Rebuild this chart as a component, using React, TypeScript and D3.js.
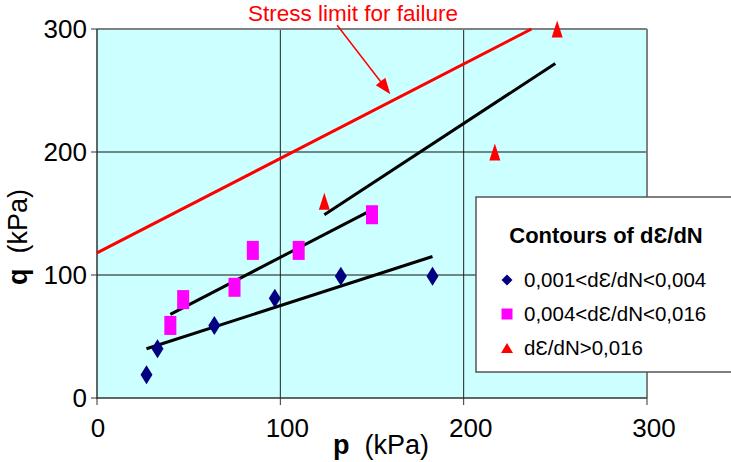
import React from "react"
import * as d3 from "d3"

// readings from the chart (p, q in kPa)
const lowP = [27, 33, 64, 97, 133, 183]
const lowQ = [19, 40, 59, 81, 99, 99]
const midP = [40, 47, 75, 85, 110, 150]
const midQ = [59, 80, 90, 120, 120, 149]
const highP = [124, 217, 251]
const highQ = [160, 200, 300]

const lowFit = [[27, 40], [183, 115]]
const midFit = [[40, 68], [150, 153]]
const highFit = [[124, 149], [250, 272]]
const failureLine = [[0, 118], [237, 300]]
const arrowFrom = [131, 303]
const arrowTo = [160, 247]

const ticks = [0, 100, 200, 300]
const legendLabels = ["0,001<d\u0190/dN<0,004", "0,004<d\u0190/dN<0,016", "d\u0190/dN>0,016"]

const W = 731
const H = 462
const margin = { top: 29, right: 84, bottom: 64, left: 97 }

const App: React.FC = () => {
  const x = d3.scaleLinear().domain([0, 300]).range([margin.left, W - margin.right])
  const y = d3.scaleLinear().domain([0, 300]).range([H - margin.bottom, margin.top])
  const line = d3.line<number[]>().x(d => x(d[0])).y(d => y(d[1]))

  const font = "'Liberation Sans', Arial, sans-serif"
  const diamond = (w: number, h: number) => `M0,${-h / 2}L${w / 2},0L0,${h / 2}L${-w / 2},0Z`
  const triangle = (w: number, h: number) => `M0,${-h / 2}L${w / 2},${h / 2}L${-w / 2},${h / 2}Z`

  // arrow head
  const ax = x(arrowTo[0]), ay = y(arrowTo[1])
  const bx = x(arrowFrom[0]), by = y(arrowFrom[1])
  const ang = Math.atan2(ay - by, ax - bx)
  const hl = 16, hw = 6
  const headPts = [
    [ax, ay],
    [ax - hl * Math.cos(ang) + hw * Math.sin(ang), ay - hl * Math.sin(ang) - hw * Math.cos(ang)],
    [ax - hl * Math.cos(ang) - hw * Math.sin(ang), ay - hl * Math.sin(ang) + hw * Math.cos(ang)],
  ]

  const x0 = x(0), x1 = x(300), y0 = y(0), y1 = y(300)

  return (
    <svg width={W} height={H} style={{ position: "absolute", left: 0, top: 0, display: "block" }} fontFamily={font}>
      <rect width={W} height={H} fill="#fff" />
      <rect x={x0} y={y1} width={x1 - x0} height={y0 - y1} fill="#ccffff" />
      {/* grid */}
      {[100, 200].map(t => (
        <g key={t}>
          <line x1={x(t)} x2={x(t)} y1={y1} y2={y0} stroke="#222" strokeWidth={1} />
          <line x1={x0} x2={x1} y1={y(t)} y2={y(t)} stroke="#111" strokeWidth={1} />
        </g>
      ))}
      {/* border */}
      <line x1={x0} x2={x1} y1={y1} y2={y1} stroke="#808080" strokeWidth={2} />
      <line x1={x1} x2={x1} y1={y1} y2={y0} stroke="#808080" strokeWidth={2} />
      <line x1={x0} x2={x0} y1={y1} y2={y0 + 1} stroke="#333" strokeWidth={1.5} />
      <line x1={x0} x2={x1} y1={y0} y2={y0} stroke="#333" strokeWidth={1.5} />
      {/* ticks */}
      {ticks.map(t => (
        <g key={"t" + t}>
          <line x1={x0 - 6} x2={x0} y1={y(t)} y2={y(t)} stroke="#333" strokeWidth={1} />
          <text x={x0 - 10} y={y(t)} dy="0.36em" textAnchor="end" fontSize={26}>{t}</text>
          <line x1={x(t)} x2={x(t)} y1={y0} y2={y0 + 7} stroke="#333" strokeWidth={1} />
          <text x={x(t) + (t === 0 ? 1 : 7)} y={y0 + 39} textAnchor="middle" fontSize={26}>{t}</text>
        </g>
      ))}
      {/* axis titles */}
      <text x={333} y={454} fontSize={27}>
        <tspan fontWeight="bold">p</tspan>
        <tspan dx={15}>(kPa)</tspan>
      </text>
      <text transform="translate(27,285) rotate(-90)" fontSize={27}>
        <tspan fontWeight="bold">q</tspan>
        <tspan dx={15}>(kPa)</tspan>
      </text>

      {/* fits */}
      <path d={line(failureLine) || ""} stroke="#ff0000" strokeWidth={3} fill="none" />
      {[lowFit, midFit, highFit].map((f, i) => (
        <path key={"f" + i} d={line(f) || ""} stroke="#000" strokeWidth={3} fill="none" />
      ))}

      {/* points */}
      {lowP.map((p, i) => (
        <path key={"l" + i} d={diamond(12, 19)} transform={`translate(${x(p)},${y(lowQ[i])})`} fill="#000080" />
      ))}
      {midP.map((p, i) => (
        <rect key={"m" + i} x={x(p) - 6} y={y(midQ[i]) - 9.5} width={12} height={19} fill="#ff00ff" />
      ))}
      {highP.map((p, i) => (
        <path key={"h" + i} d={triangle(11, 17)} transform={`translate(${x(p)},${y(highQ[i])})`} fill="#ff0000" />
      ))}

      {/* annotation */}
      <line x1={bx} y1={by} x2={ax - 10 * Math.cos(ang)} y2={ay - 10 * Math.sin(ang)} stroke="#ff0000" strokeWidth={1.5} />
      <polygon points={headPts.map(p => p.join(",")).join(" ")} fill="#ff0000" />
      <text x={248} y={21} fontSize={22.5} fill="#ff0000">Stress limit for failure</text>

      {/* legend */}
      <rect x={476} y={197} width={280} height={175} fill="#fff" stroke="#555" strokeWidth={1.5} />
      <text x={606} y={243} textAnchor="middle" fontSize={22} fontWeight="bold">Contours of d{"\u0190"}/dN</text>
      {legendLabels.map((lab, i) => {
        const ly = 280 + i * 34
        return (
          <g key={"lg" + i}>
            {i === 0 && <path d={diamond(11, 11)} transform={`translate(507,${ly})`} fill="#000080" />}
            {i === 1 && <rect x={501.5} y={ly - 5.5} width={11} height={11} fill="#ff00ff" />}
            {i === 2 && <path d={triangle(12, 10)} transform={`translate(507,${ly})`} fill="#ff0000" />}
            <text x={524} y={ly} dy="0.36em" fontSize={20.5}>{lab}</text>
          </g>
        )
      })}
    </svg>
  )
}

export default App
